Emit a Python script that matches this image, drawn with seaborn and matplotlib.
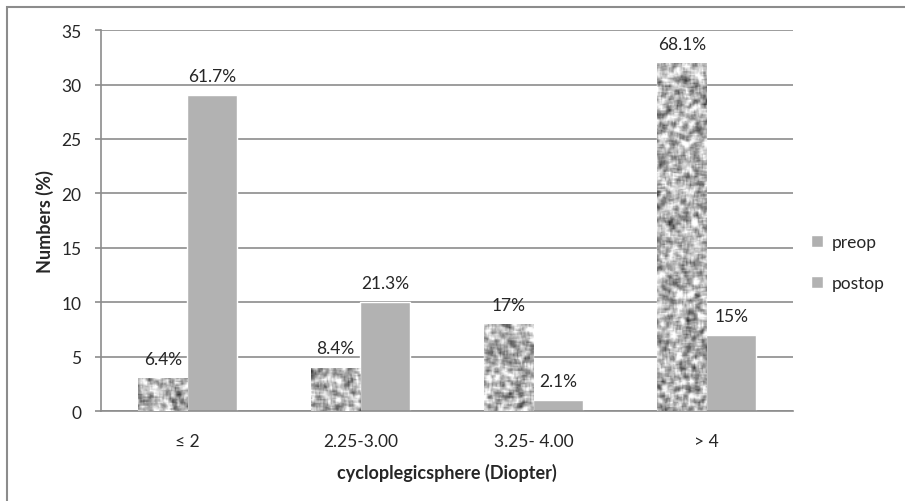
import matplotlib.pyplot as plt
import matplotlib.patches as mpatches
import numpy as np
import pandas as pd
import seaborn as sns

categories = ['≤ 2', '2.25-3.00', '3.25- 4.00', '> 4']
preop = [3, 4, 8, 32]
postop = [29, 10, 1, 7]
preop_labels = ['6.4%', '8.4%', '17%', '68.1%']
postop_labels = ['61.7%', '21.3%', '2.1%', '15%']

df = pd.DataFrame({
    'category': categories * 2,
    'value': preop + postop,
    'group': ['preop'] * 4 + ['postop'] * 4,
})

sns.set_style('white')
plt.rcParams['font.family'] = ['Lato', 'DejaVu Sans']

fig = plt.figure(figsize=(9.05, 5.02), dpi=100)
ax = fig.add_axes([0.1116, 0.179, 0.7646, 0.759])

sns.barplot(data=df, x='category', y='value', hue='group', ax=ax,
            palette={'preop': '#b0b0b0', 'postop': '#b2b2b2'},
            width=0.572, gap=0, saturation=1, legend=False)

ax.set_ylim(0, 35)
ax.set_xlim(-0.5, 3.5)
ax.set_yticks(range(0, 36, 5))
ax.yaxis.grid(True, color='#8c8c8c', linewidth=1.2)
ax.set_axisbelow(True)
for s in ['top', 'right']:
    ax.spines[s].set_visible(False)
ax.spines['left'].set_color('#8c8c8c')
ax.spines['bottom'].set_color('#8c8c8c')
ax.spines['left'].set_linewidth(1.2)
ax.spines['bottom'].set_linewidth(1.2)
ax.tick_params(axis='y', length=4, width=1.2, color='#8c8c8c', left=True,
               labelsize=12.5, pad=10)
ax.tick_params(axis='x', length=0, labelsize=12.5, pad=16)

ax.set_xlabel('cycloplegicsphere (Diopter)', fontsize=13, fontweight='bold', labelpad=10)
ax.set_ylabel('Numbers (%)', fontsize=13, fontweight='bold', labelpad=5)

# granite texture for the preop bars
rng = np.random.default_rng(7)
px_per_unit = 381 / 35
for bar in ax.containers[0]:
    x0, w, h = bar.get_x(), bar.get_width(), bar.get_height()
    ny, nx = max(int(h * px_per_unit / 1.3), 4), 38
    noise = rng.random((ny + 6, nx + 6))
    sm = sum(np.roll(np.roll(noise, i, 0), j, 1) for i in range(4) for j in range(4)) / 16
    sm = sm[3:-3, 3:-3]
    sm = (sm - sm.mean()) / sm.std()
    img = ax.imshow(sm, cmap='gray', vmin=-4.6, vmax=1.9, aspect='auto',
                    extent=(x0, x0 + w, 0, h), interpolation='bilinear', zorder=3)
    img.set_clip_path(bar)
ax.set_xlim(-0.5, 3.5)
ax.set_ylim(0, 35)

ax.bar_label(ax.containers[0], labels=preop_labels, padding=8, fontsize=12.5, zorder=4)
ax.bar_label(ax.containers[1], labels=postop_labels, padding=8, fontsize=12.5, zorder=4)

handles = [mpatches.Patch(facecolor='#b0b0b0', label='preop'),
           mpatches.Patch(facecolor='#b2b2b2', label='postop')]
fig.legend(handles=handles, loc='center left', bbox_to_anchor=(0.879, 0.475),
           frameon=False, fontsize=12.5, handlelength=0.7, handleheight=0.7,
           handletextpad=0.5, labelspacing=1.4)

fig.add_artist(mpatches.Rectangle((7 / 905, -0.1), 1.2, 1 - 8 / 502 + 0.1,
                                  transform=fig.transFigure, fill=False,
                                  edgecolor='#8c8c8c', linewidth=1.5))

fig.savefig('out.png', dpi=100)
